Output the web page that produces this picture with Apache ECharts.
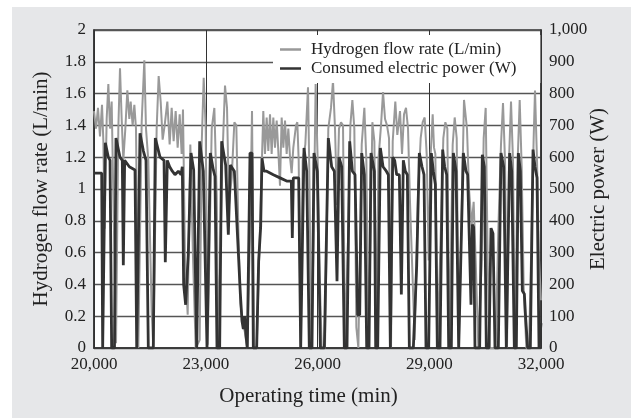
<!DOCTYPE html>
<html>
<head>
<meta charset="utf-8">
<script src="https://cdn.jsdelivr.net/npm/echarts@6/dist/echarts.min.js"></script>
<style>
  html, body { margin: 0; padding: 0; background: #fff; }
  #main { width: 631px; height: 418px; }
</style>
</head>
<body>
<div id="main"></div>
<script>
// hydrogen flow rate (L/min) vs operating time (min)
var hydroTime = [20000, 20054, 20107, 20161, 20215, 20250, 20286, 20340, 20385, 20430, 20474, 20519, 20591, 20653, 20698, 20743, 20787, 20841, 20895, 20948, 20984, 21038, 21083, 21127, 21190, 21280, 21351, 21396, 21458, 21548, 21592, 21682, 21736, 21790, 21843, 21897, 21969, 22031, 22085, 22138, 22192, 22246, 22300, 22353, 22389, 22443, 22515, 22586, 22658, 22730, 22837, 22891, 22945, 22999, 23052, 23160, 23231, 23294, 23338, 23445, 23517, 23571, 23624, 23696, 23768, 23821, 23875, 23930, 24000, 24050, 24110, 24188, 24242, 24295, 24367, 24456, 24545, 24590, 24635, 24680, 24725, 24769, 24814, 24859, 24904, 24948, 24993, 25038, 25083, 25128, 25172, 25217, 25262, 25306, 25351, 25423, 25458, 25495, 25549, 25602, 25673, 25745, 25780, 25834, 25888, 25950, 26005, 26059, 26113, 26201, 26290, 26362, 26416, 26470, 26524, 26577, 26631, 26685, 26738, 26828, 26882, 26936, 26989, 27043, 27097, 27187, 27258, 27312, 27366, 27419, 27473, 27527, 27580, 27634, 27705, 27759, 27813, 27866, 27920, 27974, 28019, 28089, 28143, 28215, 28269, 28322, 28376, 28430, 28483, 28537, 28609, 28698, 28770, 28824, 28877, 28931, 28985, 29039, 29092, 29128, 29164, 29217, 29289, 29378, 29432, 29486, 29540, 29629, 29683, 29737, 29791, 29862, 29933, 30013, 30067, 30139, 30192, 30246, 30318, 30407, 30461, 30515, 30569, 30622, 30783, 30855, 30926, 30980, 31034, 31087, 31141, 31195, 31248, 31302, 31374, 31428, 31481, 31535, 31606, 31678, 31750, 31803, 31839, 31893, 31947, 32000];
var hydroFlow = [1.49, 1.38, 1.51, 1.33, 1.53, 1.31, 0.75, 1.44, 1.66, 1.38, 1.55, 0.96, 0.03, 1.38, 1.76, 1.44, 1.18, 1.38, 1.62, 1.44, 1.55, 1.40, 1.53, 1.38, 0.0, 1.42, 1.81, 1.38, 1.18, 0.23, 0.0, 1.38, 1.71, 1.55, 1.31, 1.40, 1.55, 1.28, 1.51, 1.30, 1.49, 1.26, 1.47, 1.22, 1.50, 0.55, 0.21, 1.28, 0.57, 0.0, 0.05, 1.28, 1.70, 1.38, 0.02, 1.38, 1.51, 0.96, 0.02, 1.18, 1.65, 1.51, 0.90, 1.07, 1.42, 1.40, 0.75, 0.28, 0.15, 0.10, 0.0, 0.7, 1.49, 0.0, 0.0, 0.75, 1.49, 1.22, 1.45, 1.24, 1.47, 1.22, 1.45, 1.26, 1.43, 1.24, 1.02, 1.45, 1.26, 1.43, 1.22, 1.38, 1.20, 1.10, 1.26, 1.40, 1.42, 1.18, 0.0, 1.18, 1.28, 1.64, 1.12, 0.0, 0.6, 1.66, 1.18, 0.45, 0.0, 0.0, 1.38, 1.51, 1.68, 1.38, 0.90, 1.38, 1.42, 1.40, 0.0, 0.75, 1.40, 1.56, 1.38, 0.13, 0.0, 1.28, 1.51, 1.18, 0.0, 0.66, 1.42, 1.30, 0.0, 1.18, 1.40, 1.61, 1.44, 1.40, 1.32, 0.0, 1.30, 1.55, 1.34, 1.49, 1.22, 1.47, 1.51, 1.38, 0.92, 0.55, 0.05, 0.96, 1.32, 1.42, 1.45, 1.22, 0.55, 1.22, 1.47, 1.26, 1.22, 0.0, 0.55, 1.32, 1.42, 1.38, 0.0, 1.28, 1.45, 1.32, 0.0, 0.75, 1.56, 1.38, 1.00, 0.77, 0.92, 0.55, 0.0, 0.55, 1.32, 1.51, 0.55, 0.0, 0.0, 0.75, 1.28, 1.54, 1.18, 0.0, 1.18, 1.55, 1.18, 0.0, 1.18, 1.56, 1.14, 0.38, 0.0, 0.0, 0.75, 1.32, 1.62, 1.18, 0.55, 0.3];

// consumed electric power (W) vs operating time (min)
var powerTime = [20000, 20206, 20233, 20268, 20304, 20385, 20430, 20474, 20550, 20590, 20698, 20760, 20787, 20823, 20948, 21101, 21147, 21200, 21235, 21325, 21396, 21458, 21592, 21646, 21772, 21880, 21914, 21968, 22031, 22102, 22174, 22264, 22335, 22371, 22407, 22461, 22533, 22604, 22676, 22757, 22801, 22837, 22935, 22980, 23034, 23087, 23123, 23204, 23248, 23302, 23374, 23427, 23535, 23606, 23660, 23768, 23821, 23875, 23929, 23973, 24009, 24045, 24081, 24116, 24188, 24242, 24277, 24367, 24420, 24474, 24510, 24564, 24635, 24814, 24993, 25172, 25297, 25324, 25351, 25495, 25549, 25602, 25638, 25710, 25780, 25852, 25906, 25995, 26077, 26184, 26290, 26380, 26452, 26524, 26577, 26649, 26720, 26792, 26864, 26936, 27007, 27079, 27133, 27187, 27258, 27321, 27383, 27437, 27527, 27562, 27616, 27687, 27759, 27848, 27902, 27956, 28019, 28072, 28126, 28197, 28251, 28304, 28358, 28412, 28466, 28573, 28663, 28734, 28806, 28859, 28913, 28985, 29056, 29110, 29164, 29217, 29289, 29360, 29414, 29468, 29522, 29593, 29647, 29719, 29791, 29844, 29915, 29987, 30031, 30085, 30121, 30156, 30192, 30228, 30353, 30425, 30479, 30532, 30604, 30658, 30711, 30765, 30855, 30926, 30998, 31069, 31105, 31159, 31213, 31284, 31338, 31392, 31445, 31499, 31553, 31588, 31642, 31714, 31786, 31839, 31893, 31947, 32000];
var powerW = [550, 550, 0, 0, 645, 600, 590, 0, 0, 660, 600, 590, 260, 590, 570, 560, 0, 0, 675, 620, 590, 0, 0, 660, 600, 590, 270, 590, 570, 556, 545, 556, 545, 570, 199, 136, 300, 613, 560, 0, 0, 650, 556, 550, 0, 0, 613, 560, 540, 0, 0, 650, 575, 356, 575, 556, 556, 300, 170, 85, 60, 100, 40, 0, 613, 613, 0, 0, 274, 380, 597, 556, 556, 545, 535, 525, 525, 346, 535, 535, 0, 0, 629, 556, 0, 0, 613, 556, 0, 0, 660, 570, 556, 210, 600, 570, 0, 0, 650, 556, 545, 104, 104, 613, 545, 0, 0, 613, 556, 0, 0, 629, 570, 556, 545, 0, 600, 590, 545, 545, 168, 590, 556, 545, 0, 0, 260, 613, 570, 545, 0, 0, 613, 556, 515, 0, 0, 624, 570, 545, 0, 0, 613, 556, 0, 0, 613, 556, 545, 300, 136, 388, 380, 0, 0, 608, 570, 0, 0, 377, 360, 0, 0, 613, 570, 0, 0, 613, 556, 0, 0, 613, 556, 180, 170, 94, 0, 0, 624, 570, 535, 0, 78];

var seriesNames = ['Hydrogen flow rate (L/min)', 'Consumed electric power (W)'];

function pairs(xs, ys) {
    var out = [];
    for (var i = 0; i < xs.length; i++) {
        out.push([xs[i], ys[i]]);
    }
    return out;
}

var serif = 'Liberation Serif';
var textColor = '#222';

var myChart = echarts.init(document.getElementById('main'));
myChart.setOption({
    animation: false,
    graphic: [{
        type: 'rect',
        z: -10,
        silent: true,
        shape: { x: 12, y: 7, width: 619, height: 411 },
        style: { fill: '#e6e7e9' }
    }],
    legend: {
        data: seriesNames,
        orient: 'vertical',
        left: 273,
        top: 35,
        padding: [6, 24, 6, 7],
        itemGap: 2,
        itemWidth: 21,
        itemHeight: 2.5,
        icon: 'rect',
        backgroundColor: '#fff',
        textStyle: { fontFamily: serif, fontSize: 17, color: textColor, padding: [0, 0, 0, 5] }
    },
    grid: {
        left: 94,
        top: 30,
        right: 90,
        bottom: 70,
        show: true,
        backgroundColor: '#fff',
        borderColor: '#333',
        borderWidth: 1.5
    },
    xAxis: {
        type: 'value',
        min: 20000,
        max: 32000,
        interval: 3000,
        name: 'Operating time (min)',
        nameLocation: 'middle',
        nameGap: 38,
        nameTextStyle: { fontFamily: serif, fontSize: 21, color: textColor, padding: [0, 18, 0, 0] },
        axisLine: { lineStyle: { color: '#333', width: 1.5 } },
        axisTick: { show: false },
        axisLabel: { fontFamily: serif, fontSize: 17, color: textColor, margin: 8 },
        splitLine: { show: true, lineStyle: { color: '#333', width: 1 } }
    },
    yAxis: [{
        type: 'value',
        min: 0,
        max: 2,
        interval: 0.2,
        name: 'Hydrogen flow rate (L/min)',
        nameLocation: 'middle',
        nameGap: 42,
        nameTextStyle: { fontFamily: serif, fontSize: 21, color: textColor },
        axisLine: { show: true, lineStyle: { color: '#333', width: 1.5 } },
        axisTick: { show: false },
        axisLabel: { fontFamily: serif, fontSize: 17, color: textColor, margin: 8 },
        splitLine: { show: true, lineStyle: { color: '#555', width: 1.3 } }
    }, {
        type: 'value',
        min: 0,
        max: 1000,
        interval: 100,
        position: 'right',
        name: 'Electric power (W)',
        nameLocation: 'middle',
        nameGap: 47,
        nameMoveOverlap: false,
        nameTextStyle: { fontFamily: serif, fontSize: 21, color: textColor },
        axisLine: { show: true, lineStyle: { color: '#333', width: 1.5 } },
        axisTick: { show: false },
        axisLabel: { fontFamily: serif, fontSize: 17, color: textColor, margin: 8 },
        splitLine: { show: false }
    }],
    series: [{
        name: seriesNames[0],
        type: 'line',
        yAxisIndex: 0,
        showSymbol: false,
        color: '#999',
        lineStyle: { color: '#999', width: 2 },
        data: pairs(hydroTime, hydroFlow)
    }, {
        name: seriesNames[1],
        type: 'line',
        yAxisIndex: 1,
        showSymbol: false,
        color: '#333',
        lineStyle: { color: '#333', width: 2.8 },
        data: pairs(powerTime, powerW)
    }]
});
</script>
</body>
</html>
